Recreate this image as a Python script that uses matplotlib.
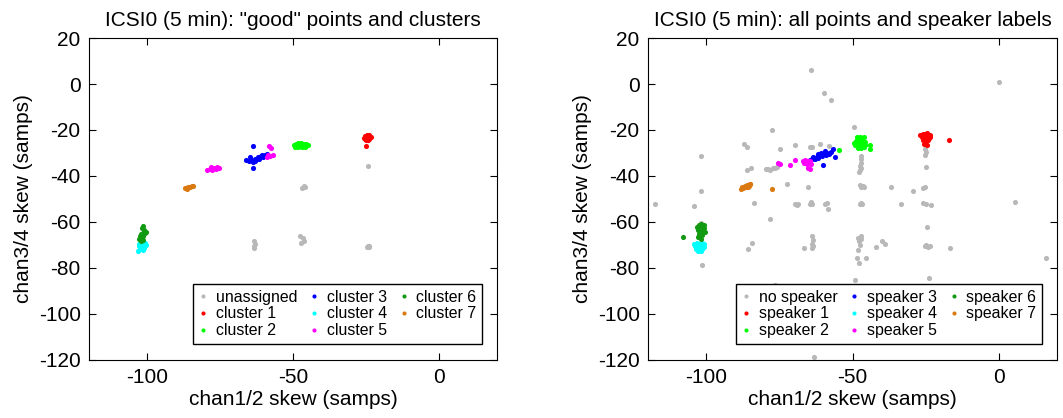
import matplotlib
matplotlib.use('Agg')
import matplotlib.pyplot as plt

plt.rcParams['font.family'] = ['Liberation Sans', 'DejaVu Sans']
plt.rcParams['axes.unicode_minus'] = False

# colours for the 7 clusters / speakers
grey = (0.72, 0.72, 0.72)
colors = ['#ff0000', '#00ff00', '#0000ff', '#00ffff', '#ff00ff', '#139a13', '#d9790f']

# ---- left panel: "good" points and clusters ----
unassigned_x = [-24.4, -46.4, -47.0, -46.0, -63.3, -63.2, -63.4, -63.3, -47.6, -46.6, -46.4, -47.2,
                -24.4, -24.0, -24.8, -23.8]
unassigned_y = [-35.7, -44.3, -45.2, -44.8, -68.4, -69.5, -70.6, -71.3, -66.2, -67.0, -68.3, -69.2,
                -70.3, -71.0, -70.8, -70.5]

c1_x = [-25.8, -25.3, -24.8, -24.3, -23.8, -23.4, -25.5, -24.9, -24.4, -23.9, -25.0, -24.2, -24.9]
c1_y = [-23.4, -22.6, -22.2, -22.4, -22.3, -23.0, -23.8, -23.9, -23.6, -23.7, -24.2, -24.3, -27.0]
c2_x = [-49.6, -49.0, -48.4, -47.8, -47.2, -46.6, -46.0, -45.4, -45.0, -49.2, -48.2, -47.0, -46.0,
        -45.4, -48.6, -47.4]
c2_y = [-26.6, -26.0, -25.8, -25.9, -25.8, -25.9, -25.9, -26.2, -26.6, -27.2, -27.3, -27.2, -27.3,
        -27.0, -26.6, -26.6]
c3_x = [-66.0, -65.2, -64.5, -63.7, -63.0, -62.5, -61.8, -61.0, -60.2, -59.5, -58.8, -64.8, -63.2,
        -62.0, -60.6, -63.8, -63.8]
c3_y = [-33.0, -33.6, -33.2, -34.0, -33.4, -32.5, -32.4, -31.5, -31.7, -30.8, -30.6, -31.8, -32.8,
        -31.9, -31.0, -27.0, -36.6]
c4_x = [-103.0, -102.4, -101.6, -100.9, -102.8, -102.0, -101.2, -100.6, -102.5, -101.5, -103.2, -101.0]
c4_y = [-69.4, -69.2, -69.5, -69.3, -70.6, -70.4, -70.8, -70.2, -71.8, -72.0, -72.6, -71.5]
c5_x = [-58.2, -57.6, -58.6, -57.8, -57.0, -59.0, -79.4, -78.6, -77.8, -77.0, -76.2, -75.4, -78.0, -76.6]
c5_y = [-26.8, -27.8, -31.0, -31.3, -30.8, -31.6, -37.2, -36.8, -37.4, -36.6, -36.2, -36.4, -36.0, -37.0]
c6_x = [-101.5, -101.8, -101.2, -100.6, -101.6, -100.8, -102.1, -101.4, -102.5, -101.8, -102.8,
        -102.2, -101.3]
c6_y = [-61.8, -62.8, -63.6, -64.3, -64.6, -64.6, -65.4, -66.0, -66.2, -67.2, -67.6, -68.4, -68.0]
c7_x = [-87.2, -86.6, -86.0, -85.4, -84.8, -84.4, -86.3, -85.6]
c7_y = [-45.4, -45.2, -44.8, -44.6, -44.3, -44.4, -45.5, -44.9]

# ---- right panel: all points and speaker labels ----
nospk_x = [-64.2, -59.9, -57.5, 0.0, -49.5, -77.7, -87.0, -86.3, -74.9, -69.7, -64.5, -63.8, -61.0,
           -58.2, -102.0, -79.8, -79.0, -78.2, -77.4, -76.6, -75.8, -86.1, -84.6, -47.2, -47.6, -47.0,
           -47.5, -47.8, -47.0, -47.3, -72.6, -65.3, -47.4, -46.6, -47.0, -46.2, -36.8, -25.8, -25.4,
           -29.2, -102.0, -117.5, -104.1, -83.6, -69.8, -68.8, -69.2, -64.2, -64.6, -63.8, -59.6,
           -58.8, -58.4, -47.2, -47.6, -46.8, -33.4, -25.8, -24.8, -23.1, 5.7, -78.4, -24.4, -63.9,
           -63.6, -64.0, -63.7, -63.9, -84.4, -85.9, -66.7, -47.2, -48.0, -47.0, -47.8, -47.4, -48.0,
           -48.6, -47.8, -45.5, -42.1, -40.1, -39.0, -24.8, -24.2, -23.6, -25.2, -16.8, 16.0, -101.7,
           -49.2, -76.7, -23.9, -63.3, -25.2, -25.0, -25.2, -24.8, -101.8]
nospk_y = [6.2, -4.1, -7.0, 0.9, -18.8, -19.9, -26.1, -27.4, -28.4, -26.5, -27.3, -27.2, -26.1,
           -27.0, -31.1, -37.0, -36.8, -37.2, -36.6, -36.4, -36.0, -37.5, -36.4, -34.5, -35.5, -36.4,
           -37.4, -38.4, -31.5, -32.8, -43.7, -45.0, -43.8, -44.2, -45.0, -44.8, -44.6, -45.4, -45.0,
           -46.6, -46.7, -52.0, -53.0, -51.6, -52.2, -52.0, -52.5, -51.2, -52.4, -52.0, -52.2,
           -51.8, -54.2, -51.6, -52.4, -52.0, -52.0, -51.6, -52.0, -52.8, -51.2, -58.9, -62.1, -66.2,
           -68.0, -69.4, -70.6, -71.4, -69.2, -71.8, -71.4, -66.2, -67.0, -67.5, -68.4, -70.2, -72.0,
           -75.7, -77.7, -75.6, -71.1, -68.2, -69.7, -70.0, -70.8, -70.5, -70.6, -71.4, -75.6, -78.8,
           -85.4, -87.5, -84.5, -118.7, -28.1, -29.5, -30.9, -35.9, -60.4]

s1_x = [-26.8, -26.0, -25.2, -24.4, -23.6, -26.4, -25.6, -24.8, -24.0, -23.4, -25.8, -25.0, -24.2,
        -25.6, -24.6, -17.1]
s1_y = [-22.2, -21.6, -21.8, -21.5, -22.0, -23.0, -23.2, -22.8, -23.4, -23.2, -24.4, -24.6, -24.2,
        -26.0, -26.6, -24.5]
s2_x = [-48.4, -47.6, -46.8, -46.0, -49.6, -48.8, -48.0, -47.2, -46.4, -45.6, -49.2, -48.2, -47.4,
        -46.6, -45.8, -48.0, -47.0, -46.2, -54.7, -43.9, -44.1]
s2_y = [-23.2, -23.0, -23.4, -23.2, -25.6, -25.0, -24.8, -25.2, -24.6, -25.4, -26.6, -26.8, -26.2,
        -27.0, -26.4, -27.8, -28.0, -27.6, -28.6, -26.5, -28.4]
s3_x = [-64.6, -63.8, -63.0, -62.2, -61.4, -60.6, -59.8, -59.0, -58.2, -57.4, -56.8, -63.4, -62.0,
        -60.8, -59.4, -58.0, -61.8, -60.2, -56.1]
s3_y = [-33.0, -32.4, -32.8, -31.6, -31.0, -31.4, -30.4, -30.8, -29.8, -29.6, -28.2, -31.6, -30.4,
        -30.0, -29.2, -30.6, -32.0, -35.2, -31.8]
s4_x = [-104.4, -103.4, -102.4, -101.4, -100.8, -104.0, -103.0, -102.0, -101.0, -103.6, -102.6,
        -101.6, -103.0, -102.0]
s4_y = [-69.6, -69.2, -69.4, -69.2, -69.8, -70.6, -70.8, -70.4, -70.9, -71.8, -72.0, -71.6, -72.8, -72.8]
s5_x = [-67.0, -66.2, -65.4, -64.6, -66.6, -65.6, -64.8, -64.2, -65.2, -64.6, -75.6, -75.0, -71.5, -69.7]
s5_y = [-33.4, -33.2, -33.6, -33.3, -34.4, -34.6, -34.2, -34.8, -36.4, -36.8, -34.4, -35.0, -35.2, -33.2]
s6_x = [-102.6, -101.8, -101.0, -103.2, -102.4, -101.6, -100.8, -102.8, -102.0, -101.2, -100.6,
        -102.6, -101.6, -103.0, -102.0, -107.9]
s6_y = [-61.2, -61.0, -61.4, -62.4, -62.2, -62.6, -62.8, -63.6, -64.0, -63.8, -64.4, -65.2, -65.6,
        -66.6, -67.2, -66.7]
s7_x = [-88.2, -87.4, -86.6, -85.8, -85.2, -87.8, -86.8, -86.0, -85.4, -85.0, -77.5]
s7_y = [-45.6, -45.4, -45.0, -44.6, -43.6, -44.8, -44.2, -43.8, -44.2, -43.4, -45.7]

panels = [
    ('ICSI0 (5 min): "good" points and clusters', 'unassigned', (unassigned_x, unassigned_y),
     [(c1_x, c1_y), (c2_x, c2_y), (c3_x, c3_y), (c4_x, c4_y), (c5_x, c5_y), (c6_x, c6_y), (c7_x, c7_y)],
     'cluster'),
    ('ICSI0 (5 min): all points and speaker labels', 'no speaker', (nospk_x, nospk_y),
     [(s1_x, s1_y), (s2_x, s2_y), (s3_x, s3_y), (s4_x, s4_y), (s5_x, s5_y), (s6_x, s6_y), (s7_x, s7_y)],
     'speaker'),
]

fig = plt.figure(figsize=(10.63, 4.18), dpi=100)
axes = [fig.add_axes([0.0837, 0.139, 0.384, 0.770]),
        fig.add_axes([0.6096, 0.139, 0.385, 0.770])]

for ax, (title, grey_label, grey_pts, groups, prefix) in zip(axes, panels):
    ax.plot(grey_pts[0], grey_pts[1], 'o', color=grey, ms=3.7, mew=0, label=grey_label)
    for i, (gx, gy) in enumerate(groups):
        ax.plot(gx, gy, 'o', color=colors[i], ms=3.7, mew=0, label=f'{prefix} {i + 1}')
    ax.set_xlim(-120, 20)
    ax.set_ylim(-120, 20)
    ax.set_xticks([-100, -50, 0])
    ax.set_yticks(range(-120, 21, 20))
    ax.tick_params(direction='in', top=True, right=True, labelsize=15, length=5, width=0.8, pad=6)
    for s in ax.spines.values():
        s.set_linewidth(0.8)
    ax.set_title(title, fontsize=15, pad=9)
    ax.set_xlabel('chan1/2 skew (samps)', fontsize=15, labelpad=2)
    ax.set_ylabel('chan3/4 skew (samps)', fontsize=15, labelpad=4)
    leg = ax.legend(loc='lower right', bbox_to_anchor=(0.982, 0.025), ncol=3, fontsize=11.4,
                    frameon=True, fancybox=False, edgecolor='black', framealpha=1,
                    handlelength=0.6, handletextpad=0.5, columnspacing=0.75,
                    labelspacing=0.12, borderpad=0.35, markerscale=0.8)
    leg.get_frame().set_linewidth(1.0)

fig.savefig('out.png', dpi=100)
